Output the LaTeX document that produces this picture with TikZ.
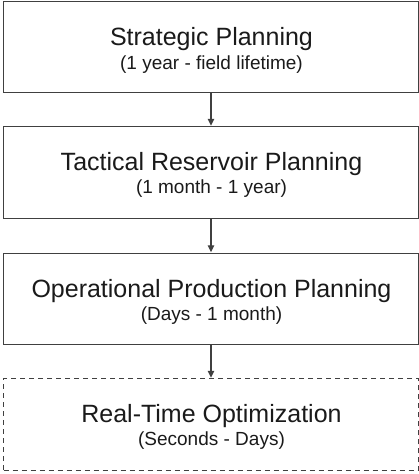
\documentclass[tikz,border=0pt]{standalone}
\usepackage{fontspec}
\setmainfont{Liberation Sans}
\usetikzlibrary{arrows.meta,calc}
\definecolor{edge}{HTML}{404040}
\definecolor{ink}{HTML}{1A1A1A}
\tikzset{
  stage/.style={draw=edge, line width=1.3pt, rectangle, minimum width=415pt, minimum height=91.5pt, inner sep=0pt},
  rtstage/.style={stage, dash pattern=on 5pt off 4pt},
  title/.style={anchor=base, text=ink, font=\fontsize{25}{30}\selectfont, inner sep=0pt},
  span/.style={anchor=base, text=ink, font=\fontsize{19}{23}\selectfont, inner sep=0pt},
  flow/.style={draw=edge, line width=1.3pt, -{Triangle[length=7pt,width=6.5pt]}, shorten >=0.3pt}
}
\begin{document}
\begin{tikzpicture}[x=1pt,y=-1pt]
  \useasboundingbox (0,0) rectangle (418,474);
  \node[stage]   (b1) at (211,47)    {};
  \node[stage]   (b2) at (211,172.5) {};
  \node[stage]   (b3) at (211,299)   {};
  \node[rtstage] (b4) at (211,424.5) {};

  \node[title] (t1) at ($(b1.north)+(0.5,45)$) {Strategic Planning};
  \node[span]  (s1) at ($(b1.north)+(0.5,69)$) {(1 year - field lifetime)};
  \node[title] (t2) at ($(b2.north)+(0.5,44.5)$) {Tactical Reservoir Planning};
  \node[span]  (s2) at ($(b2.north)+(0.5,67.5)$) {(1 month - 1 year)};
  \node[title] (t3) at ($(b3.north)+(0.5,44.5)$) {Operational Production Planning};
  \node[span]  (s3) at ($(b3.north)+(0.5,67.5)$) {(Days - 1 month)};
  \node[title] (t4) at ($(b4.north)+(0.5,44.5)$) {Real-Time Optimization};
  \node[span]  (s4) at ($(b4.north)+(0.5,67.5)$) {(Seconds - Days)};

  \draw[flow] (b1.south) -- (b2.north);
  \draw[flow] (b2.south) -- (b3.north);
  \draw[flow] (b3.south) -- (b4.north);
\end{tikzpicture}
\end{document}
